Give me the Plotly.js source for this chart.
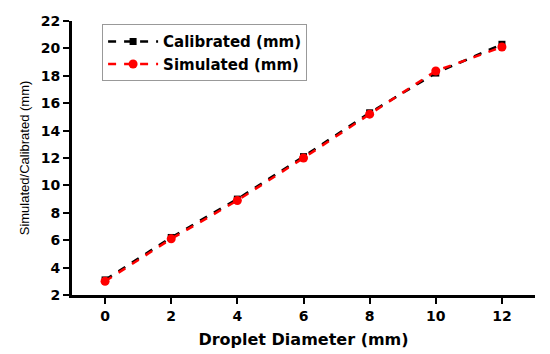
<!DOCTYPE html>
<html><head><meta charset="utf-8">
<script src="https://cdn.plot.ly/plotly-3.0.1.min.js"></script>
<style>body{margin:0;background:#fff}#c{width:550px;height:354px}</style>
</head><body><div id="c"></div>
<script>
const diameter = [0, 2, 4, 6, 8, 10, 12];
const calibrated = [3.1, 6.2, 9.0, 12.1, 15.3, 18.2, 20.3];
const simulated = [3.0, 6.1, 8.9, 12.0, 15.2, 18.35, 20.1];
const yTicks = [2, 4, 6, 8, 10, 12, 14, 16, 18, 20, 22];
const xTicks = [0, 2, 4, 6, 8, 10, 12];

const bold = 'DejaVu Sans, sans-serif';
const traces = [
  {x: diameter, y: calibrated, name: '<b>Calibrated (mm)</b>', mode: 'lines+markers',
   line: {color: '#000', width: 2.5, dash: '8px,8px'}, marker: {symbol: 'square', size: 7, color: '#000'}},
  {x: diameter, y: simulated, name: '<b>Simulated (mm)</b>', mode: 'lines+markers',
   line: {color: '#ff0000', width: 2.5, dash: '8px,8px'}, marker: {symbol: 'circle', size: 9, color: '#ff0000'}}
];
const tickFont = {family: bold, size: 14, color: '#000', weight: 'bold'};
const layout = {
  width: 550, height: 354,
  margin: {l: 72, r: 15, t: 21, b: 59},
  paper_bgcolor: '#fff', plot_bgcolor: '#fff',
  showlegend: true,
  legend: {x: 0.065, y: 0.988, xanchor: 'left', yanchor: 'top', bordercolor: '#999', borderwidth: 1,
    bgcolor: '#fff', font: {family: bold, size: 15, color: '#000'},
    tracegroupgap: 0, itemwidth: 50},
  xaxis: {range: [-1, 13], tickvals: xTicks, ticktext: xTicks.map(String), showgrid: false, zeroline: false,
    showline: true, linecolor: '#000', linewidth: 3, ticks: 'outside', ticklen: 6, tickwidth: 2, tickcolor: '#000',
    tickfont: tickFont,
    title: {text: '<b>Droplet Diameter (mm)</b>', font: {family: bold, size: 16, color: '#000'}, standoff: 12}},
  yaxis: {range: [2, 22], tickvals: yTicks, ticktext: yTicks.map(String), showgrid: false, zeroline: false,
    showline: true, linecolor: '#000', linewidth: 3, ticks: 'outside', ticklen: 6, tickwidth: 2, tickcolor: '#000',
    tickfont: tickFont,
    title: {text: 'Simulated/Calibrated (mm)', font: {family: 'Liberation Sans, Arial, sans-serif', size: 13, color: '#000'}, standoff: 9}}
};
Plotly.newPlot('c', traces, layout, {displayModeBar: false, staticPlot: true}).then(gd => {
  gd.querySelectorAll('.xtick text, .ytick text').forEach(t => {
    t.style.fontWeight = '700';
    t.setAttribute('font-weight', '700');
    t.style.fontFamily = 'DejaVu Sans';
  });
});
</script></body></html>
